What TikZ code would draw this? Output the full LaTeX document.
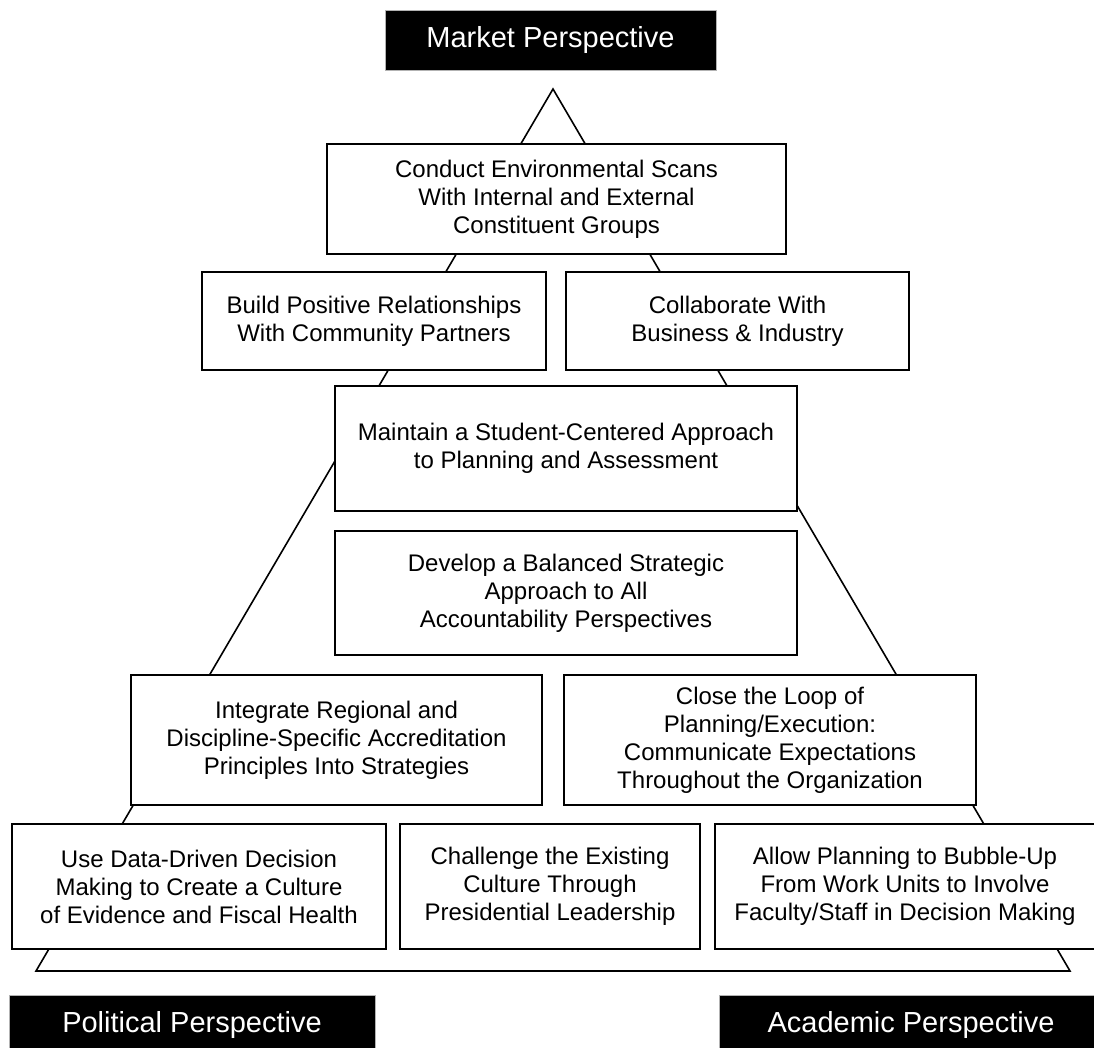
\documentclass[tikz,border=0pt]{standalone}
\usepackage{fontspec}
\setmainfont{Liberation Sans}
\begin{document}
\begin{tikzpicture}[x=1pt,y=-1pt,
  stepbox/.style={draw=black, fill=white, line width=1.9pt, align=center, inner sep=0pt,
    font=\fontsize{24}{28}\selectfont},
  persp/.style={fill=black, draw=gray!60, line width=0.6pt, text=white, inner sep=0pt,
    font=\fontsize{29}{34}\selectfont},
  frame/.style={draw=black, line width=1.6pt, line join=miter}]
\useasboundingbox (0,0) rectangle (1094,1047);
% pyramid outline
\coordinate (apex) at (553,89);
\coordinate (bl) at (36,971);
\coordinate (br) at (1070,971);
\draw[frame] (apex) -- (bl) -- (br) -- cycle;
% perspective labels
\node[persp, minimum width=331, minimum height=60] (market) at (550.5,40) {Market Perspective};
\node[persp, minimum width=366, minimum height=60] (political) at (192,1025) {Political Perspective};
\node[persp, minimum width=384, minimum height=60] (academic) at (911,1025) {Academic Perspective};
% boxes
\node[stepbox, minimum width=459, minimum height=110] (b1) at (556.5,199)
  {Conduct Environmental Scans\\With Internal and External\\Constituent Groups};
\node[stepbox, minimum width=344, minimum height=98] (b2) at (374,321)
  {Build Positive Relationships\\With Community Partners};
\node[stepbox, minimum width=343, minimum height=98] (b3) at (737.5,321)
  {Collaborate With\\Business \& Industry};
\node[stepbox, minimum width=462, minimum height=125] (b4) at (566,448.5)
  {Maintain a Student-Centered Approach\\to Planning and Assessment};
\node[stepbox, minimum width=462, minimum height=124] (b5) at (566,593)
  {Develop a Balanced Strategic\\Approach to All\\Accountability Perspectives};
\node[stepbox, minimum width=411, minimum height=130] (b6) at (336.5,740)
  {Integrate Regional and\\Discipline-Specific Accreditation\\Principles Into Strategies};
\node[stepbox, minimum width=412, minimum height=130] (b7) at (770,740)
  {Close the Loop of\\Planning/Execution:\\Communicate Expectations\\Throughout the Organization};
\node[stepbox, minimum width=374, minimum height=125] (b8) at (199,886.5)
  {Use Data-Driven Decision\\Making to Create a Culture\\of Evidence and Fiscal Health};
\node[stepbox, minimum width=300, minimum height=125] (b9) at (550,886.5)
  {Challenge the Existing\\Culture Through\\Presidential Leadership};
\node[stepbox, minimum width=380, minimum height=125] (b10) at (905,886.5)
  {Allow Planning to Bubble-Up\\From Work Units to Involve\\Faculty/Staff in Decision Making};
\end{tikzpicture}
\end{document}
